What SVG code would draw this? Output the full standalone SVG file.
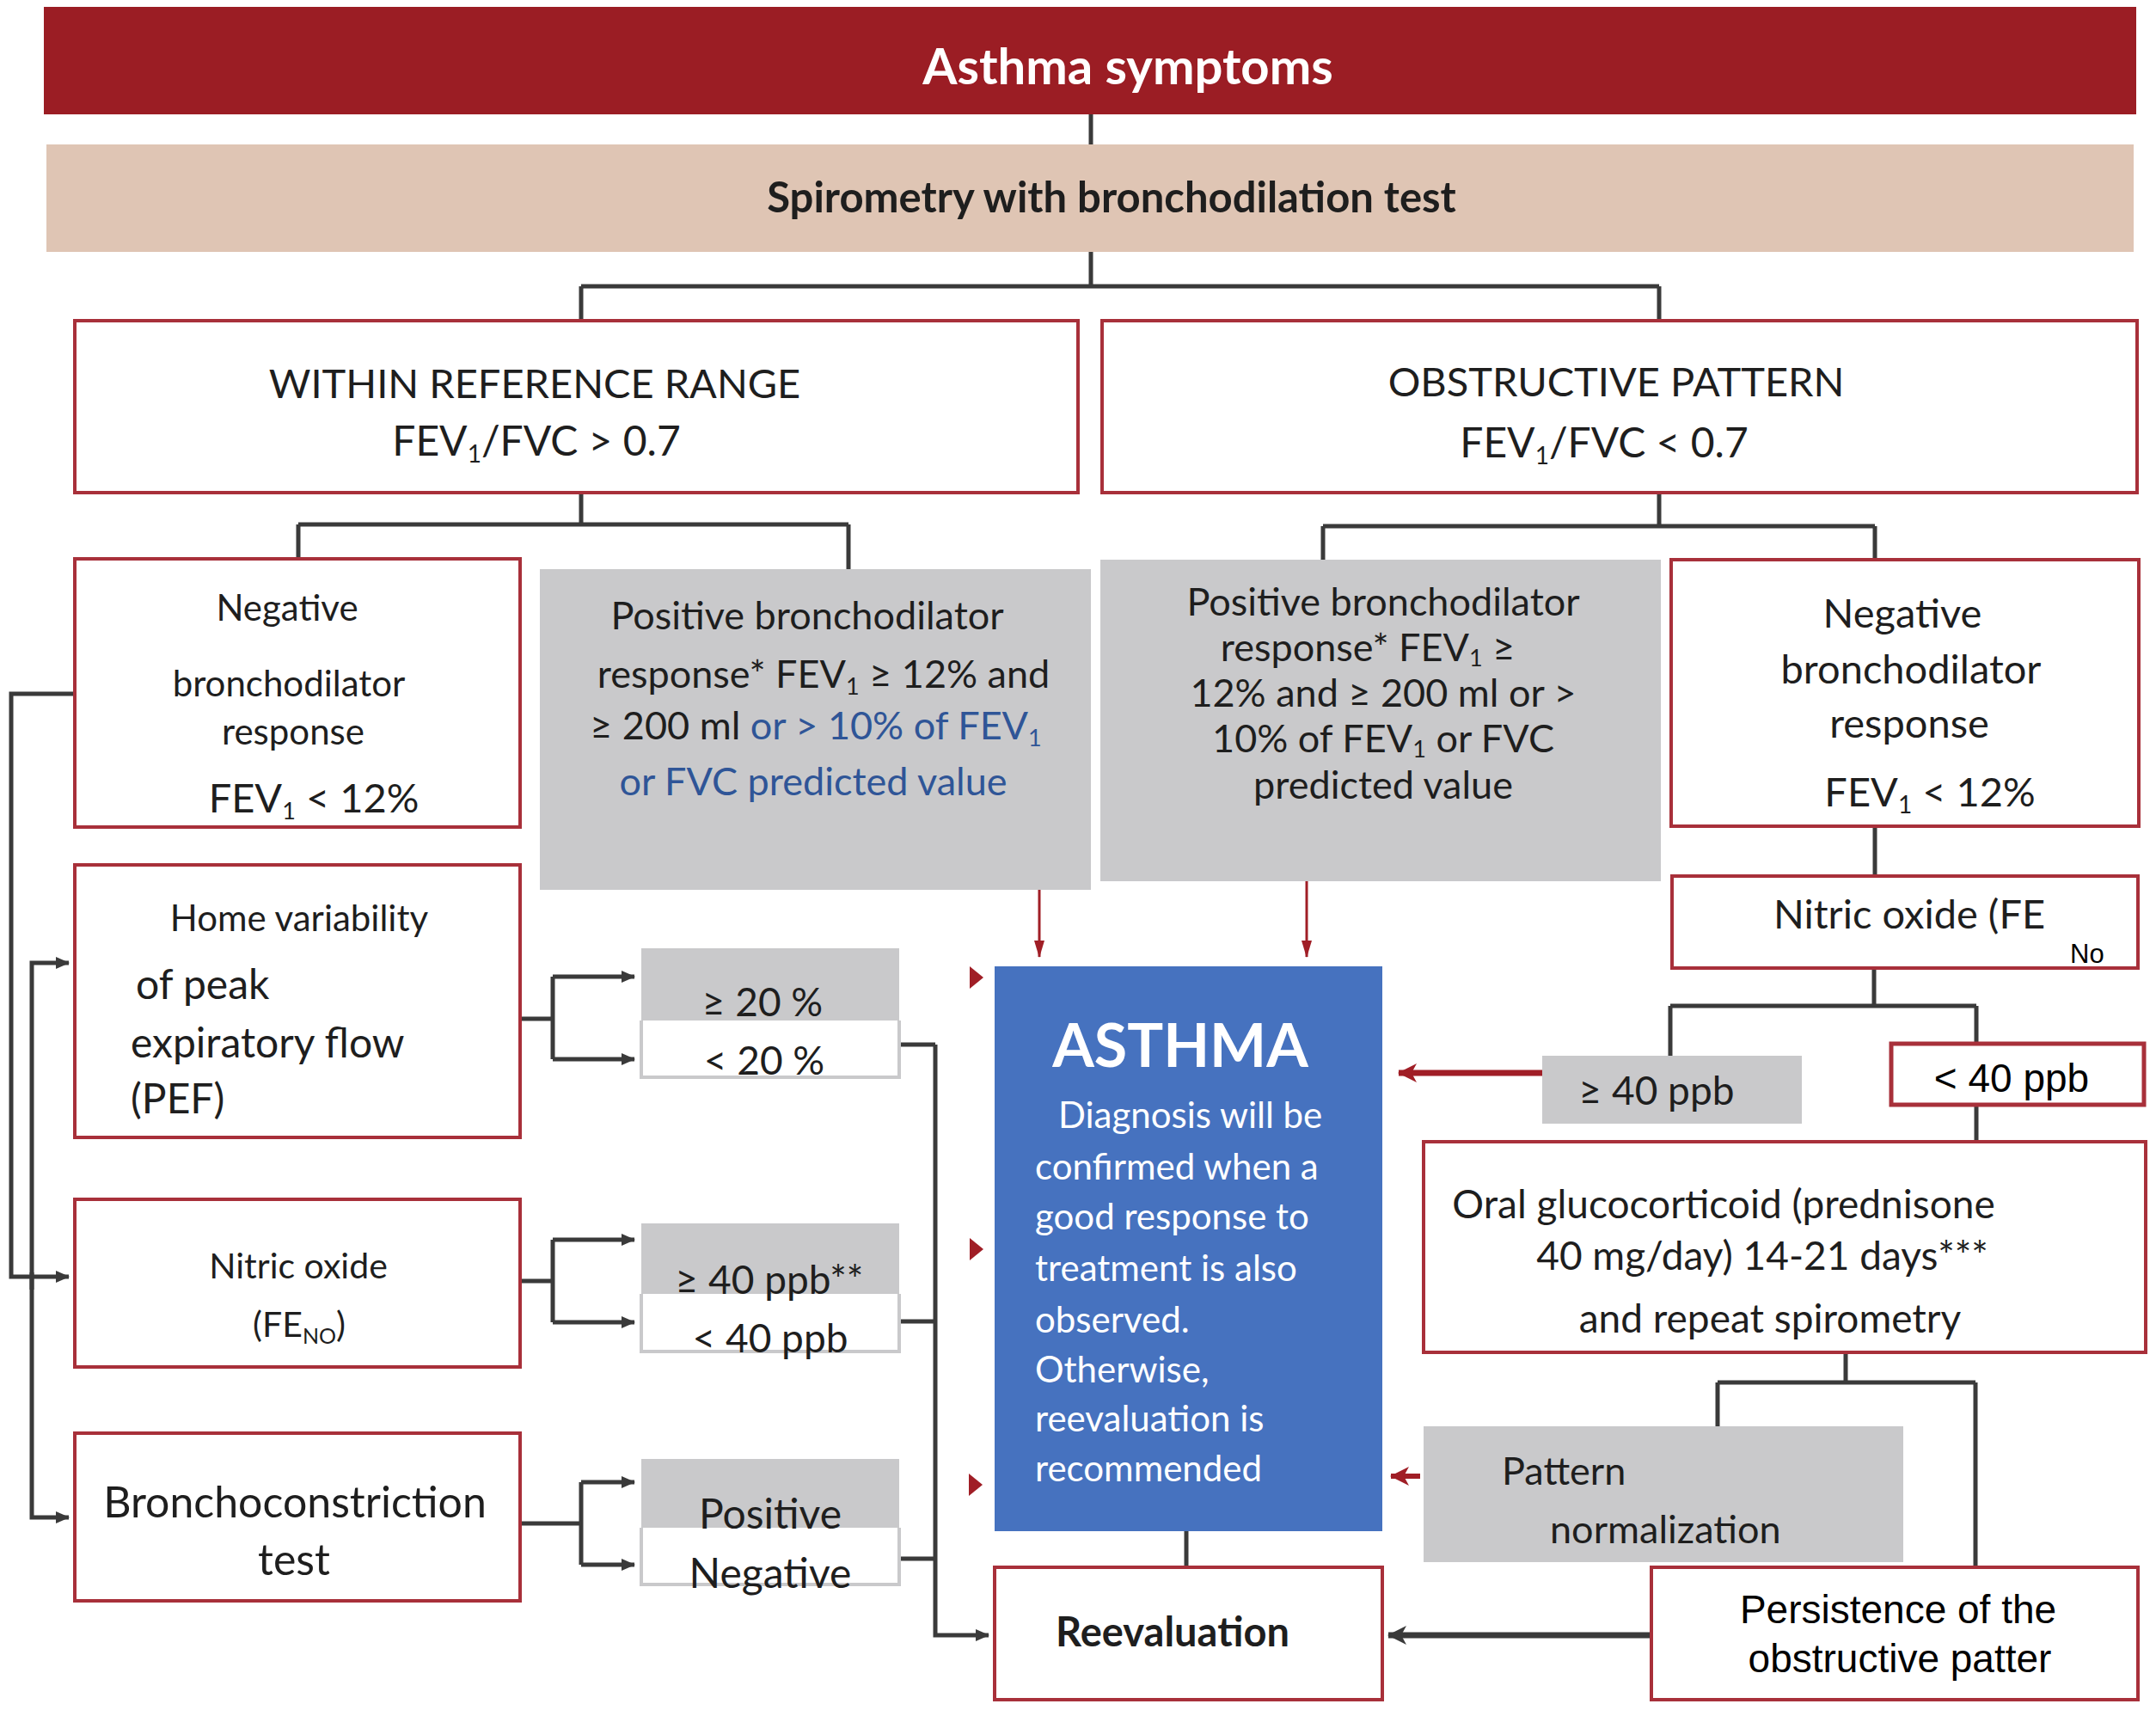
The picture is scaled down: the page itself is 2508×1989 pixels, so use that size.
<svg xmlns="http://www.w3.org/2000/svg" width="2508" height="1989" viewBox="0 0 2508 1989">
<defs>
<style>
.t{font-family:Lato,"Open Sans","Liberation Sans",sans-serif;fill:#1e1e1e}
.b{font-weight:bold}
.w{fill:#ffffff}
.blu{fill:#2f5597}
.a{font-family:"Liberation Sans",Arial,sans-serif;fill:#000000}
.box{fill:#ffffff;stroke:#a8303a;stroke-width:4}
.gray{fill:#c9c9cb}
.opt{fill:#ffffff;stroke:#c9c9cb;stroke-width:4}
.ln{fill:none;stroke:#3a3a3a;stroke-width:5}
.rd{fill:none;stroke:#a01e26;stroke-width:3}
</style>
<marker id="ag" markerUnits="userSpaceOnUse" viewBox="0 0 16 16" markerWidth="16" markerHeight="16" refX="15" refY="8" orient="auto"><path d="M0,1 L16,8 L0,15 Z" fill="#3a3a3a"/></marker>
<marker id="ar" markerUnits="userSpaceOnUse" viewBox="0 0 20 12" markerWidth="20" markerHeight="12" refX="19" refY="6" orient="auto"><path d="M0,0 L20,6 L0,12 Z" fill="#a01e26"/></marker>
<marker id="arb" markerUnits="userSpaceOnUse" viewBox="0 0 22 22" markerWidth="22" markerHeight="22" refX="21" refY="11" orient="auto"><path d="M0,0 L22,11 L0,22 L6,11 Z" fill="#a01e26"/></marker>
<marker id="agb" markerUnits="userSpaceOnUse" viewBox="0 0 22 22" markerWidth="22" markerHeight="22" refX="21" refY="11" orient="auto"><path d="M0,0 L22,11 L0,22 L6,11 Z" fill="#3a3a3a"/></marker>
</defs>
<rect width="2508" height="1989" fill="#ffffff"/>

<g id="connectors">
<path class="ln" d="M1269,133 V168"/>
<path class="ln" d="M1269,293 V333 M676,333 H1930 M676,333 V373 M1930,333 V373"/>
<path class="ln" d="M676,573 V610 M347,610 H987 M347,610 V650 M987,610 V662"/>
<path class="ln" d="M1930,573 V612 M1539,612 H2181 M1539,612 V651 M2181,612 V651"/>
<path class="ln" d="M2181,961 V1019"/>
<path class="ln" d="M2180,1126 V1170 M1943,1170 H2299 M1943,1170 V1228 M2299,1170 V1213"/>
<path class="ln" d="M2299,1285 V1328"/>
<path class="ln" d="M2147,1573 V1608 M1998,1608 H2298 M1998,1608 V1659 M2298,1608 V1823"/>
<path class="ln" d="M1380,1781 V1823"/>
<path class="ln" marker-end="url(#ag)" d="M87,807 H13 V1485 H80"/>
<path class="ln" marker-end="url(#ag)" d="M37,1500 V1120 H80"/>
<path class="ln" marker-end="url(#ag)" d="M37,1480 V1765 H80"/>
<path class="ln" d="M605,1185 H643 M643,1136 V1232"/>
<path class="ln" marker-end="url(#ag)" d="M643,1136 H738"/>
<path class="ln" marker-end="url(#ag)" d="M643,1232 H738"/>
<path class="ln" d="M605,1490 H643 M643,1442 V1538"/>
<path class="ln" marker-end="url(#ag)" d="M643,1442 H738"/>
<path class="ln" marker-end="url(#ag)" d="M643,1538 H738"/>
<path class="ln" d="M605,1772 H676 M676,1724 V1820"/>
<path class="ln" marker-end="url(#ag)" d="M676,1724 H738"/>
<path class="ln" marker-end="url(#ag)" d="M676,1820 H738"/>
<path class="ln" d="M1046,1215 H1088 M1046,1537 H1088 M1046,1813 H1088"/>
<path class="ln" marker-end="url(#ag)" d="M1088,1215 V1902 H1150"/>
<path class="rd" marker-end="url(#ar)" d="M1209,1035 V1113"/>
<path class="rd" marker-end="url(#ar)" d="M1520,1025 V1113"/>
<path fill="none" stroke="#a01e26" stroke-width="7" marker-end="url(#arb)" d="M1794,1248 H1627"/>
<path fill="none" stroke="#a01e26" stroke-width="6" marker-end="url(#arb)" d="M1652,1717 H1618"/>
<path fill="none" stroke="#3a3a3a" stroke-width="7" marker-end="url(#agb)" d="M1921,1902 H1615"/>
<polygon points="1128,1124 1144,1137 1128,1150" fill="#a01e26"/>
<polygon points="1128,1440 1144,1453 1128,1466" fill="#a01e26"/>
<polygon points="1127,1714 1143,1727 1127,1740" fill="#a01e26"/>
</g>

<g id="n-symptoms">
<rect x="51" y="8" width="2434" height="125" fill="#9b1d24"/>
<text class="t b w" x="1312" y="98" font-size="58" text-anchor="middle">Asthma symptoms</text>
</g>

<g id="n-spirometry">
<rect x="54" y="168" width="2428" height="125" fill="#dfc5b4"/>
<text class="t b" x="1293" y="247" font-size="49" text-anchor="middle">Spirometry with bronchodilation test</text>
</g>

<g id="n-within">
<rect class="box" x="87" y="373" width="1167" height="200"/>
<text class="t" x="622" y="463" font-size="47" text-anchor="middle">WITHIN REFERENCE RANGE</text>
<text class="t" x="624" y="530" font-size="48" text-anchor="middle">FEV<tspan font-size="28" dy="8">1</tspan><tspan dy="-8">/FVC &gt; 0.7</tspan></text>
</g>

<g id="n-obstructive">
<rect class="box" x="1282" y="373" width="1204" height="200"/>
<text class="t" x="1880" y="461" font-size="47" text-anchor="middle">OBSTRUCTIVE PATTERN</text>
<text class="t" x="1866" y="532" font-size="48" text-anchor="middle">FEV<tspan font-size="28" dy="8">1</tspan><tspan dy="-8">/FVC &lt; 0.7</tspan></text>
</g>

<g id="n-neg-left">
<rect class="box" x="87" y="650" width="518" height="312"/>
<text class="t" x="334" y="722" font-size="42" text-anchor="middle">Negative</text>
<text class="t" x="336" y="810" font-size="42" text-anchor="middle">bronchodilator</text>
<text class="t" x="341" y="866" font-size="42" text-anchor="middle">response</text>
<text class="t" x="365" y="945" font-size="47" text-anchor="middle">FEV<tspan font-size="27" dy="8">1</tspan><tspan dy="-8"> &lt; 12%</tspan></text>
</g>

<g id="n-pos-left">
<rect class="gray" x="628" y="662" width="641" height="373"/>
<text class="t" x="939" y="732" font-size="45" text-anchor="middle">Positive bronchodilator</text>
<text class="t" x="958" y="800" font-size="45" text-anchor="middle">response*  FEV<tspan font-size="27" dy="8">1</tspan><tspan dy="-8"> ≥ 12% and</tspan></text>
<text class="t" x="949" y="860" font-size="45" text-anchor="middle">≥ 200 ml <tspan class="blu">or &gt; 10% of FEV</tspan><tspan class="blu" font-size="27" dy="8">1</tspan></text>
<text class="t blu" x="946" y="925" font-size="45" text-anchor="middle">or FVC predicted value</text>
</g>

<g id="n-pos-right">
<rect class="gray" x="1280" y="651" width="652" height="374"/>
<text class="t" x="1609" y="716" font-size="45" text-anchor="middle">Positive bronchodilator</text>
<text class="t" x="1591" y="769" font-size="45" text-anchor="middle">response* FEV<tspan font-size="27" dy="6">1</tspan><tspan dy="-6"> ≥</tspan></text>
<text class="t" x="1609" y="822" font-size="45" text-anchor="middle">12% and ≥ 200 ml or &gt;</text>
<text class="t" x="1609" y="875" font-size="45" text-anchor="middle">10% of FEV<tspan font-size="27" dy="6">1</tspan><tspan dy="-6"> or FVC</tspan></text>
<text class="t" x="1609" y="929" font-size="45" text-anchor="middle">predicted  value</text>
</g>

<g id="n-neg-right">
<rect class="box" x="1944" y="651" width="544" height="310"/>
<text class="t" x="2213" y="730" font-size="47" text-anchor="middle">Negative</text>
<text class="t" x="2223" y="795" font-size="47" text-anchor="middle">bronchodilator</text>
<text class="t" x="2221" y="858" font-size="47" text-anchor="middle">response</text>
<text class="t" x="2245" y="938" font-size="47" text-anchor="middle">FEV<tspan font-size="28" dy="8">1</tspan><tspan dy="-8"> &lt; 12%</tspan></text>
</g>

<g id="n-nitric-right">
<rect class="box" x="1945" y="1019" width="542" height="107"/>
<text class="t" x="2221" y="1080" font-size="47" text-anchor="middle">Nitric oxide (FE</text>
<text class="a" x="2408" y="1120" font-size="31">No</text>
</g>

<g id="n-ge40-right">
<rect class="gray" x="1794" y="1228" width="302" height="79"/>
<text class="t" x="1927" y="1285" font-size="46" text-anchor="middle">≥ 40 ppb</text>
</g>

<g id="n-lt40-right">
<rect x="2200" y="1214" width="294" height="71" fill="#ffffff" stroke="#a8303a" stroke-width="5"/>
<text class="a" x="2340" y="1270" font-size="46" text-anchor="middle">&lt; 40 ppb</text>
</g>

<g id="n-oral">
<rect class="box" x="1656" y="1328" width="840" height="245"/>
<text class="t" x="2005" y="1417" font-size="46" text-anchor="middle">Oral glucocorticoid (prednisone</text>
<text class="t" x="2050" y="1477" font-size="46" text-anchor="middle">40 mg/day) 14-21 days***</text>
<text class="t" x="2059" y="1550" font-size="46" text-anchor="middle">and repeat spirometry</text>
</g>

<g id="n-pattern">
<rect class="gray" x="1656" y="1659" width="558" height="158"/>
<text class="t" x="1747" y="1727" font-size="45">Pattern</text>
<text class="t" x="1803" y="1795" font-size="45">normalization</text>
</g>

<g id="n-persistence">
<rect class="box" x="1921" y="1823" width="566" height="154"/>
<text class="a" x="2208" y="1888" font-size="46" text-anchor="middle">Persistence of the</text>
<text class="a" x="2210" y="1945" font-size="46" text-anchor="middle">obstructive patter</text>
</g>

<g id="n-asthma">
<rect x="1157" y="1124" width="451" height="657" fill="#4672bf"/>
<text class="t b w" x="1373" y="1241" font-size="70" text-anchor="middle">ASTHMA</text>
<text class="t w" x="1231" y="1312" font-size="42">Diagnosis will be</text>
<text class="t w" x="1204" y="1372" font-size="42">confirmed when a</text>
<text class="t w" x="1204" y="1430" font-size="42">good response to</text>
<text class="t w" x="1204" y="1490" font-size="42">treatment is also</text>
<text class="t w" x="1204" y="1550" font-size="42">observed.</text>
<text class="t w" x="1204" y="1608" font-size="42">Otherwise,</text>
<text class="t w" x="1204" y="1665" font-size="42">reevaluation is</text>
<text class="t w" x="1204" y="1723" font-size="42">recommended</text>
</g>

<g id="n-reevaluation">
<rect class="box" x="1157" y="1823" width="451" height="154"/>
<text class="t b" x="1364" y="1915" font-size="47" text-anchor="middle">Reevaluation</text>
</g>

<g id="n-home">
<rect class="box" x="87" y="1006" width="518" height="317"/>
<text class="t" x="348" y="1083" font-size="42" text-anchor="middle">Home variability</text>
<text class="t" x="158" y="1162" font-size="48">of peak</text>
<text class="t" x="152" y="1230" font-size="48">expiratory flow</text>
<text class="t" x="152" y="1295" font-size="48">(PEF)</text>
</g>

<g id="n-pef-options">
<rect class="gray" x="746" y="1103" width="300" height="84"/>
<path class="opt" d="M746,1187 V1253 H1046 V1187"/>
<text class="t" x="887" y="1182" font-size="46" text-anchor="middle">≥ 20 %</text>
<text class="t" x="889" y="1250" font-size="46" text-anchor="middle">&lt; 20 %</text>
</g>

<g id="n-nitric-left">
<rect class="box" x="87" y="1395" width="518" height="195"/>
<text class="t" x="347" y="1487" font-size="41" text-anchor="middle">Nitric oxide</text>
<text class="t" x="348" y="1555" font-size="41" text-anchor="middle">(FE<tspan font-size="25" dy="8">NO</tspan><tspan dy="-8">)</tspan></text>
</g>

<g id="n-feno-options">
<rect class="gray" x="746" y="1423" width="300" height="82"/>
<path class="opt" d="M746,1505 V1572 H1046 V1505"/>
<text class="t" x="895" y="1505" font-size="46" text-anchor="middle">≥ 40 ppb**</text>
<text class="t" x="896" y="1573" font-size="46" text-anchor="middle">&lt; 40 ppb</text>
</g>

<g id="n-broncho">
<rect class="box" x="87" y="1667" width="518" height="195"/>
<text class="t" x="343" y="1765" font-size="50" text-anchor="middle">Bronchoconstriction</text>
<text class="t" x="342" y="1832" font-size="50" text-anchor="middle">test</text>
</g>

<g id="n-broncho-options">
<rect class="gray" x="746" y="1697" width="300" height="80"/>
<path class="opt" d="M746,1777 V1843 H1046 V1777"/>
<text class="t" x="896" y="1778" font-size="48" text-anchor="middle">Positive</text>
<text class="t" x="896" y="1847" font-size="48" text-anchor="middle">Negative</text>
</g>
</svg>
